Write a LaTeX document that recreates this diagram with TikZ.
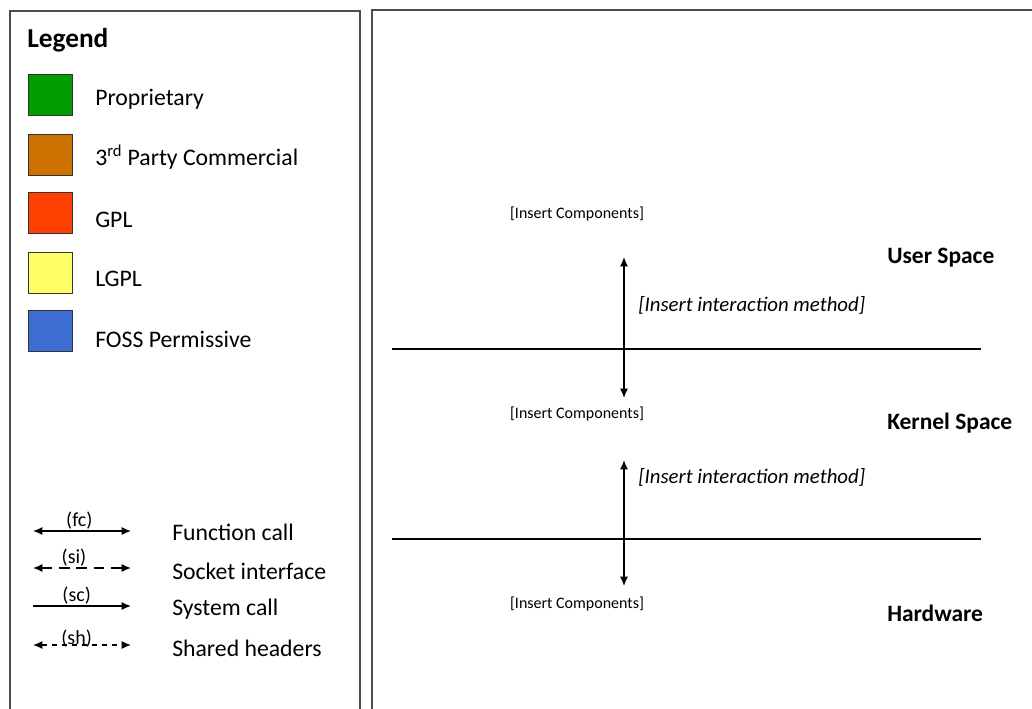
\documentclass[tikz,border=0pt]{standalone}
\usepackage{fontspec}
\setmainfont{Carlito}
\usetikzlibrary{arrows.meta}

\tikzset{
  panel/.style={draw=black!70,line width=1.2pt},
  swatch/.style={draw=black!80,line width=0.9pt,minimum width=33pt,minimum height=31pt,inner sep=0pt},
  legtext/.style={anchor=west,font=\fontsize{17.8}{20}\selectfont,inner sep=0pt},
  tag/.style={font=\fontsize{15}{17}\selectfont,inner sep=0pt,above=1pt},
  layer/.style={anchor=west,font=\bfseries\fontsize{17.6}{21}\selectfont,inner sep=0pt},
  comp/.style={font=\fontsize{12}{14}\selectfont,inner sep=0pt},
  method/.style={anchor=west,font=\itshape\fontsize{15.6}{18}\selectfont,inner sep=0pt},
  tip/.style={draw=black,line width=1pt,{Latex[length=7pt,width=6pt]}-{Latex[length=7pt,width=6pt]}},
  onetip/.style={draw=black,line width=1pt,-{Latex[length=7pt,width=6pt]}}
}
\definecolor{propgreen}{RGB}{0,158,0}
\definecolor{commorange}{RGB}{204,112,0}
\definecolor{gplred}{RGB}{255,64,0}
\definecolor{lgplyellow}{RGB}{255,255,102}
\definecolor{fossblue}{RGB}{60,110,210}

\begin{document}
\begin{tikzpicture}[x=0.75pt,y=-0.75pt]
\useasboundingbox (0,0) rectangle (1032,708);

% the two panels
\draw[panel] (10,712) -- (10,11) -- (360,11) -- (360,712);
\draw[panel] (372,712) -- (372,10) -- (1036,10);

% legend: licences
\node[anchor=west,font=\bfseries\fontsize{20.5}{24}\selectfont,inner sep=0pt] (legend) at (27,40) {Legend};
\node[swatch,fill=propgreen] (s1) at (50.5,95) {};
\node[swatch,fill=commorange] (s2) at (50.5,155) {};
\node[swatch,fill=gplred] (s3) at (50.5,213) {};
\node[swatch,fill=lgplyellow] (s4) at (50.5,273) {};
\node[swatch,fill=fossblue] (s5) at (50.5,331) {};
\node[legtext] (l1) at (95,99) {Proprietary};
\node[legtext] (l2) at (95,157) {3\textsuperscript{rd} Party Commercial};
\node[legtext] (l3) at (95,220) {GPL};
\node[legtext] (l4) at (95,279) {LGPL};
\node[legtext] (l5) at (95,339) {FOSS Permissive};

% legend: interfaces
\coordinate (fcL) at (33,531);  \coordinate (fcR) at (131,531);
\coordinate (siL) at (33,568);  \coordinate (siR) at (131,568);
\coordinate (scL) at (33,606);  \coordinate (scR) at (131,606);
\coordinate (shL) at (33,645);  \coordinate (shR) at (131,645);
\path (fcL) edge[tip] node[tag,xshift=-2pt] {(fc)} (fcR);
\path (siL) edge[tip,dash pattern=on 8pt off 5pt] node[tag,xshift=-6pt] {(si)} (siR);
\path (scL) edge[onetip] node[tag,xshift=-4pt] {(sc)} (scR);
\path (shL) edge[tip,dash pattern=on 4pt off 3.5pt] node[tag,xshift=-4pt,yshift=-3pt] {(sh)} (shR);
\node[legtext] (t1) at (172,532) {Function call};
\node[legtext] (t2) at (172,571) {Socket interface};
\node[legtext] (t3) at (172,609) {System call};
\node[legtext] (t4) at (172,648) {Shared headers};

% layers
\coordinate (b1L) at (392,349); \coordinate (b1R) at (981,349);
\coordinate (b2L) at (392,539); \coordinate (b2R) at (981,539);
\draw[line width=1.1pt] (b1L) -- (b1R);
\draw[line width=1.1pt] (b2L) -- (b2R);

\node[comp] (c1) at (577,214) {[Insert Components]};
\node[comp] (c2) at (577,414) {[Insert Components]};
\node[comp] (c3) at (577,604) {[Insert Components]};

\node[layer] (user) at (887,258) {User Space};
\node[layer] (kernel) at (887,423) {Kernel Space};
\node[layer] (hw) at (887,613) {Hardware};

\coordinate (a1T) at (624,257); \coordinate (a1B) at (624,398);
\coordinate (a2T) at (624,460); \coordinate (a2B) at (624,586);
\path (a1T) edge[tip] (a1B);
\path (a2T) edge[tip] (a2B);
\node[method] (m1) at (638,305) {[Insert interaction method]};
\node[method] (m2) at (638,477) {[Insert interaction method]};
\end{tikzpicture}
\end{document}
